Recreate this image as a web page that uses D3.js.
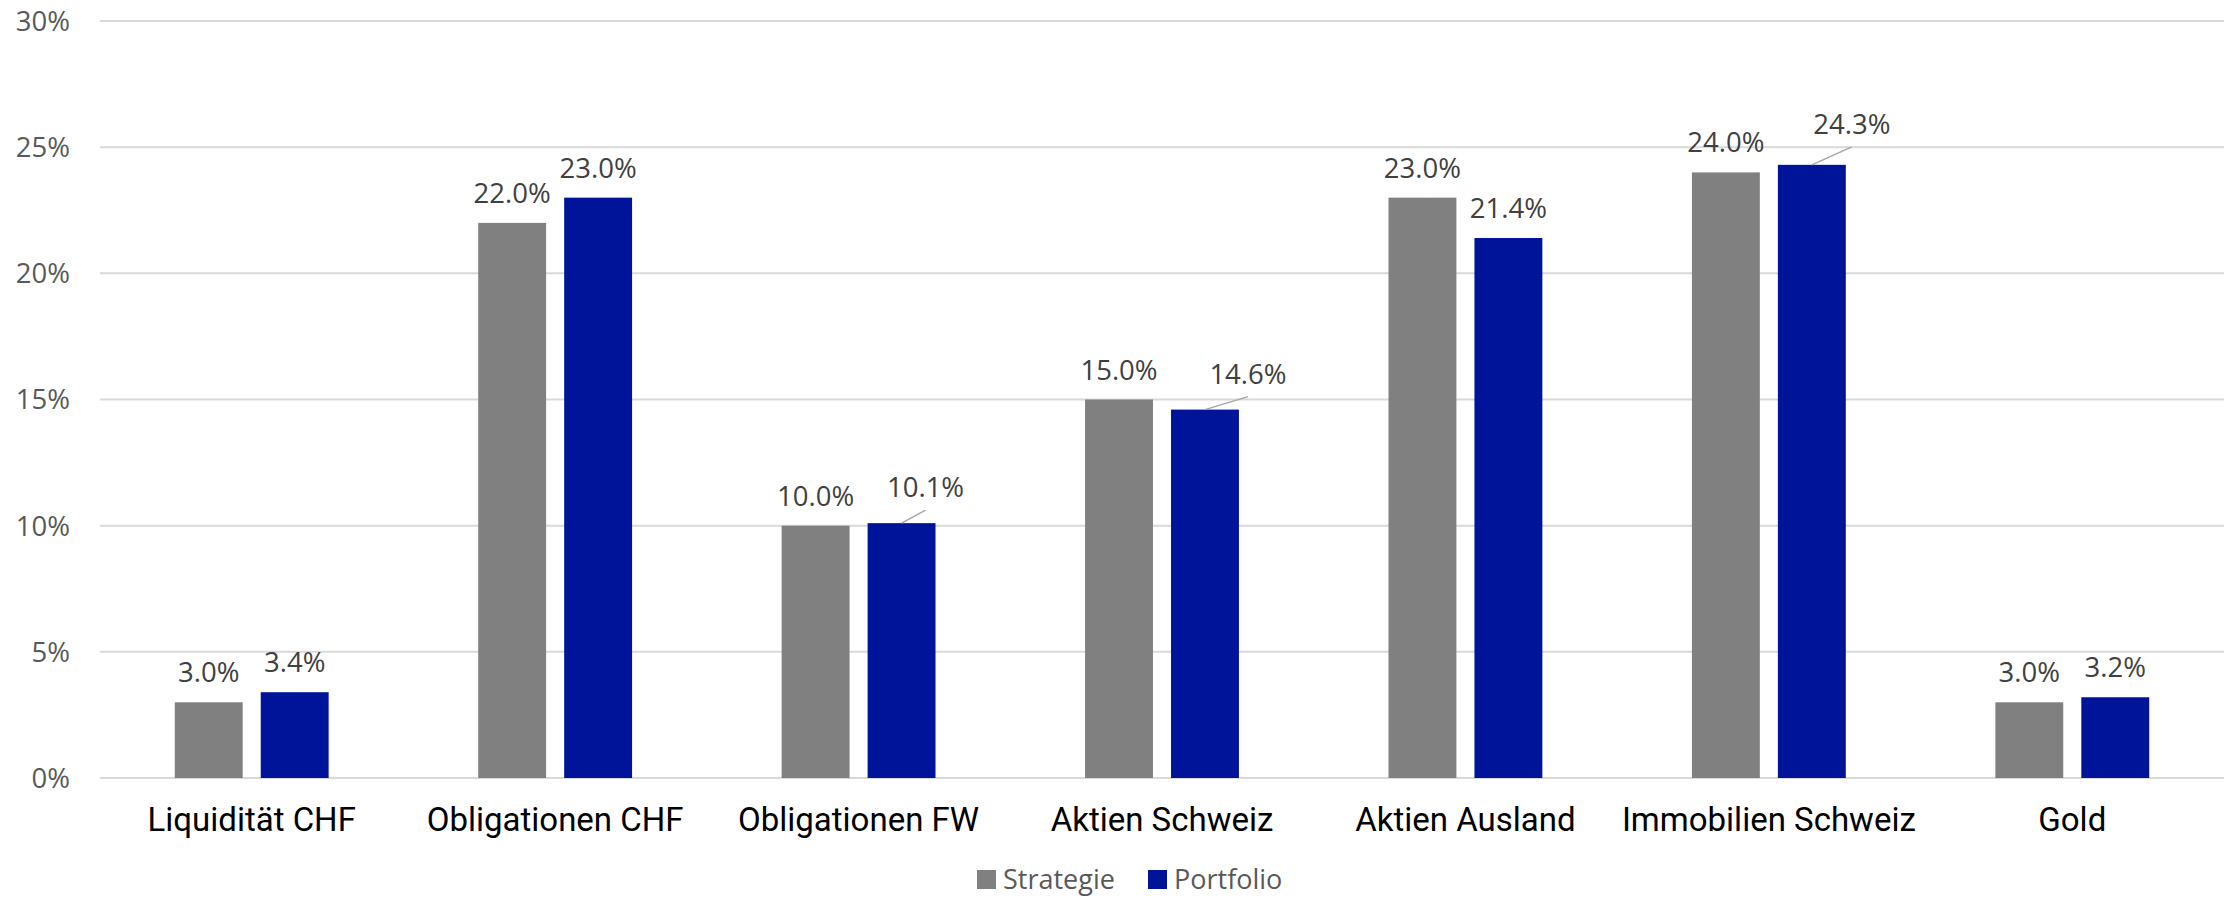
<!DOCTYPE html>
<html>
<head>
<meta charset="utf-8">
<script src="https://cdn.jsdelivr.net/npm/d3@7"></script>
<style>
  body { margin: 0; background: #fff; }
  svg { display: block; }
</style>
</head>
<body>
<div id="chart"></div>
<script>
// data
const categories = ["Liquidität CHF", "Obligationen CHF", "Obligationen FW", "Aktien Schweiz", "Aktien Ausland", "Immobilien Schweiz", "Gold"]
const series = ["Strategie", "Portfolio"]
const strategie = [3.0, 22.0, 10.0, 15.0, 23.0, 24.0, 3.0]
const portfolio = [3.4, 23.0, 10.1, 14.6, 21.4, 24.3, 3.2]
const yTicks = [0, 5, 10, 15, 20, 25, 30]

const width = 2234
const height = 898

const svg = d3.select("#chart")
    .append("svg")
    .attr("width", width)
    .attr("height", height)

const x = d3.scaleBand()
    .domain(categories)
    .range([100, 2224])

const x1 = d3.scaleBand()
    .domain(series)
    .range([0, x.bandwidth()])
    .paddingInner(0.21)
    .paddingOuter(0.87)

const y = d3.scaleLinear()
    .domain([0, 30])
    .range([778, 21])

const color = d3.scaleOrdinal()
    .domain(series)
    .range(["#808080", "#00149a"])

// grid lines
svg.append("g")
    .selectAll("line")
    .data(yTicks)
    .join("line")
    .attr("x1", 100)
    .attr("x2", 2224)
    .attr("y1", d => y(d))
    .attr("y2", d => y(d))
    .attr("stroke", "#d9d9d9")
    .attr("stroke-width", 2)

// y labels
svg.append("g")
    .selectAll("text")
    .data(yTicks)
    .join("text")
    .attr("x", 70)
    .attr("y", d => y(d))
    .attr("dy", "0.36em")
    .attr("text-anchor", "end")
    .style("font-family", "'Open Sans', sans-serif")
    .style("font-size", "27.5px")
    .style("fill", "#595959")
    .text(d => d + "%")

const rows = categories.map((c, i) => ({
    cat: c,
    vals: [
        { key: "Strategie", value: strategie[i] },
        { key: "Portfolio", value: portfolio[i] }
    ]
}))

// some portfolio labels were dragged away from the bar in the original
const nudge = {
    "Obligationen FW": [24, -6],
    "Aktien Schweiz": [43, -6],
    "Immobilien Schweiz": [40, -11]
}

const groups = svg.append("g")
    .selectAll("g")
    .data(rows)
    .join("g")
    .attr("transform", d => `translate(${x(d.cat)},0)`)

groups.selectAll("rect")
    .data(d => d.vals)
    .join("rect")
    .attr("x", d => x1(d.key))
    .attr("y", d => y(d.value))
    .attr("width", x1.bandwidth())
    .attr("height", d => y(0) - y(d.value))
    .attr("fill", d => color(d.key))

groups.each(function(row) {
    const g = d3.select(this)
    row.vals.forEach(v => {
        const cx = x1(v.key) + x1.bandwidth() / 2
        const top = y(v.value)
        let dx = 0, dy = 0
        if (v.key === "Portfolio" && nudge[row.cat]) {
            [dx, dy] = nudge[row.cat]
            g.append("line")
                .attr("x1", cx)
                .attr("y1", top)
                .attr("x2", cx + dx)
                .attr("y2", top - 20 + dy + 13)
                .attr("stroke", "#a6a6a6")
                .attr("stroke-width", 1.5)
        }
        g.append("text")
            .attr("x", cx + dx)
            .attr("y", top - 20 + dy)
            .attr("text-anchor", "middle")
            .style("font-family", "'Open Sans', sans-serif")
            .style("font-size", "27.5px")
            .style("fill", "#404040")
            .text(v.value.toFixed(1) + "%")
    })
})

// category labels
svg.append("g")
    .selectAll("text")
    .data(categories)
    .join("text")
    .attr("x", d => x(d) + x.bandwidth() / 2)
    .attr("y", 831)
    .attr("text-anchor", "middle")
    .style("font-family", "Roboto, sans-serif")
    .style("font-size", "33px")
    .style("fill", "#000")
    .text(d => d)

// legend
const legendX = [977, 1148]
const legend = svg.append("g")
    .selectAll("g")
    .data(series)
    .join("g")
    .attr("transform", (d, i) => `translate(${legendX[i]},870)`)

legend.append("rect")
    .attr("width", 19)
    .attr("height", 19)
    .attr("fill", d => color(d))

legend.append("text")
    .attr("x", 26)
    .attr("y", 19)
    .style("font-family", "'Open Sans', sans-serif")
    .style("font-size", "27px")
    .style("fill", "#595959")
    .text(d => d)
</script>
</body>
</html>
